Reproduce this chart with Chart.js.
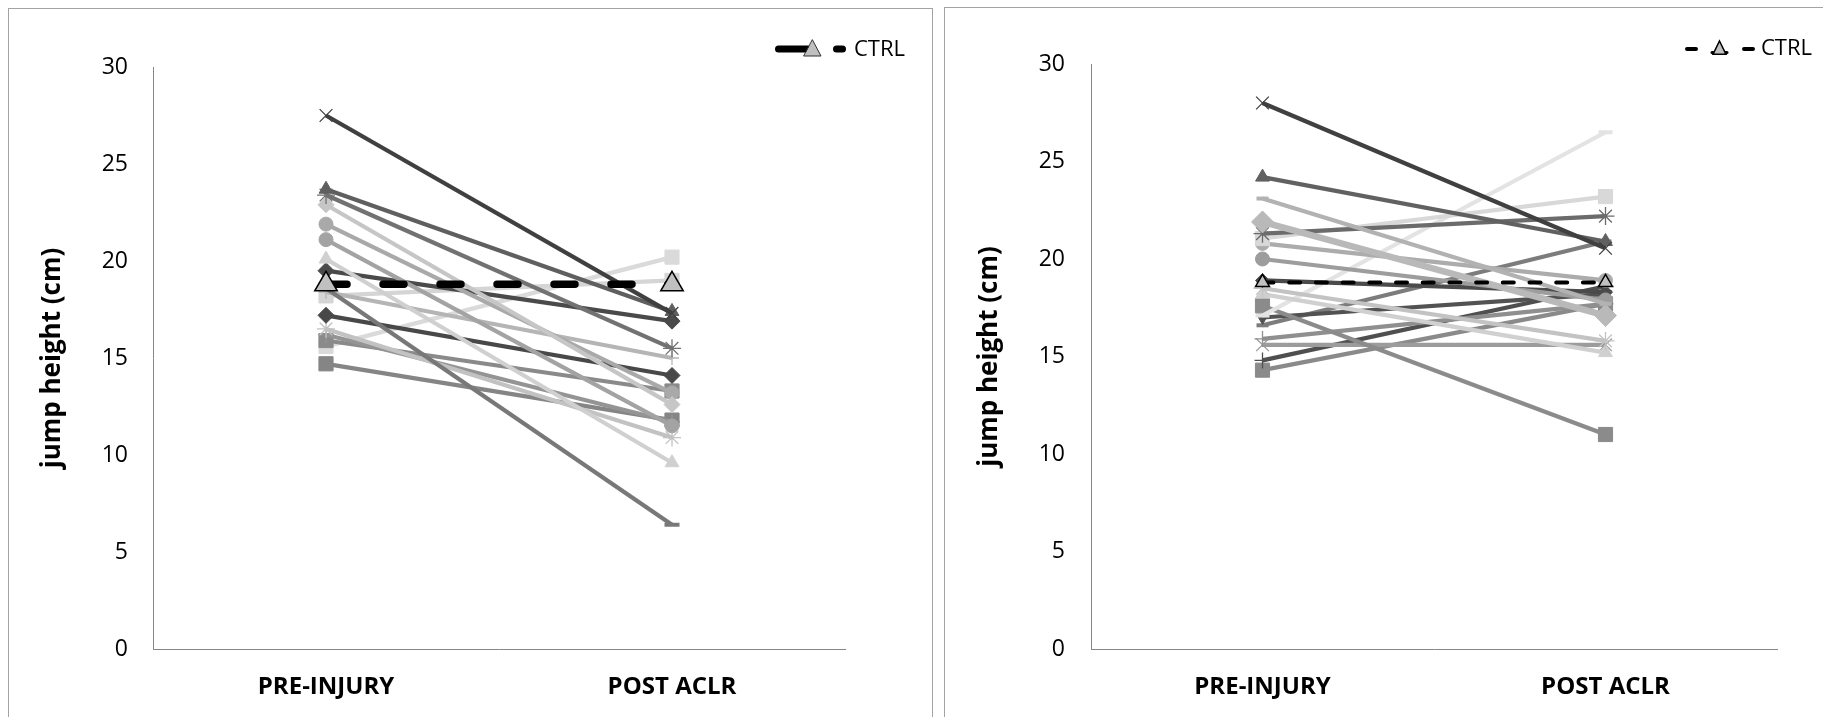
<!DOCTYPE html>
<html>
<head>
<meta charset="utf-8">
<script src="https://cdn.jsdelivr.net/npm/chart.js@4.4.1/dist/chart.umd.min.js"></script>
<style>
html, body { margin: 0; padding: 0; background: #fff; width: 1823px; height: 717px; overflow: hidden; }
.panel { position: absolute; border: 1px solid #a3a3a3; box-sizing: border-box; background: #fff; }
#p1 { left: 8px; top: 8px; width: 925px; height: 740px; }
#p2 { left: 944px; top: 7px; width: 920px; height: 740px; }
canvas { position: absolute; left: 0; top: 0; }
</style>
</head>
<body>
<div class="panel" id="p1"><canvas id="left" width="923" height="708"></canvas></div>
<div class="panel" id="p2"><canvas id="right" width="878" height="709"></canvas></div>
<script>
// categories and tick labels
const categories = ['PRE-INJURY', 'POST ACLR'];
const yTicks = [0, 5, 10, 15, 20, 25, 30];

// control group mean (same in both panels)
const ctrlLeft = [18.8, 18.8];
const ctrlRight = [18.8, 18.8];

// left panel, one entry per subject
const leftPre  = [27.5, 23.7, 23.4, 22.9, 21.9, 21.1, 20.1, 19.5, 18.6, 18.4, 18.2, 17.2, 16.5, 16.2, 15.9, 15.6, 14.7];
const leftPost = [17.3, 17.4, 15.5, 12.6, 13.2, 11.5,  9.6, 16.9,  6.4, 15.0, 19.0, 14.1, 10.9, 11.7, 13.3, 20.2, 11.8];

// right panel, one entry per subject
const rightPre  = [28.0, 24.2, 23.1, 21.9, 21.3, 21.05, 20.8, 20.0, 18.9, 18.5, 18.2, 17.1, 17.6, 17.0, 16.6, 15.9, 15.6, 14.8, 14.3];
const rightPost = [20.55, 20.9, 17.7, 17.1, 22.2, 23.2, 18.9, 17.9, 18.3, 15.8, 15.2, 26.5, 11.0, 18.2, 20.9, 17.7, 15.6, 18.6, 17.7];

// styles (kept apart from the values)
const leftColors  = ['#404040', '#5f5f5f', '#727272', '#c6c6c6', '#a9a9a9', '#a3a3a3', '#d0d0d0', '#4a4a4a', '#787878', '#b5b5b5', '#d5d5d5', '#484848', '#c2c2c2', '#949494', '#8a8a8a', '#dadada', '#858585'];
const leftMarkers = ['crossRot', 'triangle', 'star', 'rectRot', 'circle', 'circle', 'triangle', 'rectRot', 'line', 'cross', 'rect', 'rectRot', 'star', 'cross', 'rect', 'rect', 'rect'];
const leftSizes   = [9, 8, 9, 8, 7, 7, 8, 8, 7.5, 7, 10, 8, 9, 8, 10, 10, 10];

const rightColors  = ['#404040', '#616161', '#b2b2b2', '#b9b9b9', '#6b6b6b', '#d8d8d8', '#acacac', '#9d9d9d', '#4b4b4b', '#c3c3c3', '#d0d0d0', '#e3e3e3', '#8b8b8b', '#525252', '#7c7c7c', '#8f8f8f', '#9c9c9c', '#4f4f4f', '#8a8a8a'];
const rightMarkers = ['crossRot', 'triangle', 'line', 'rectRot', 'star', 'rect', 'circle', 'circle', 'rectRot', 'star', 'triangle', 'line', 'rect', 'triangle', 'line', 'cross', 'crossRot', 'cross', 'rect'];
const rightSizes   = [9, 8, 6, 11, 9, 10, 7, 7, 7, 9, 8, 7, 10, 7, 6, 8, 9, 8, 10];
const rightWidths  = [4.2, 4.2, 4.2, 6.5, 4.2, 4.2, 4.2, 4.2, 4.2, 4.2, 4.2, 4.2, 4.2, 4.2, 4.2, 4.2, 4.2, 4.2, 4.2];
const rightRotation = [0, 0, 0, 0, 0, 0, 0, 0, 0, 0, 0, 0, 0, 180, 0, 0, 0, 0, 0];

const FONT = "'Open Sans', 'Liberation Sans', sans-serif";

// legend symbol: dashed line with a triangle in the middle
function makeIcon(w, h, draw) {
    const c = document.createElement('canvas');
    c.width = w;
    c.height = h;
    draw(c.getContext('2d'));
    return c;
}

function triangle(ctx, cx, top, bottom, half) {
    ctx.beginPath();
    ctx.moveTo(cx, top);
    ctx.lineTo(cx + half, bottom);
    ctx.lineTo(cx - half, bottom);
    ctx.closePath();
    ctx.fillStyle = '#c0c0c0';
    ctx.fill();
    ctx.stroke();
}

const leftIcon = makeIcon(72, 24, ctx => {
    ctx.strokeStyle = '#000';
    ctx.lineCap = 'round';
    ctx.lineWidth = 7;
    ctx.beginPath(); ctx.moveTo(4.5, 11); ctx.lineTo(34, 11); ctx.stroke();
    ctx.beginPath(); ctx.moveTo(62.5, 11); ctx.lineTo(68.5, 11); ctx.stroke();
    ctx.lineWidth = 1;
    ctx.strokeStyle = '#303030';
    triangle(ctx, 38.5, 2, 18, 8.5);
});

const rightIcon = makeIcon(74, 24, ctx => {
    ctx.strokeStyle = '#000';
    ctx.lineCap = 'round';
    ctx.lineWidth = 4;
    ctx.beginPath(); ctx.moveTo(6, 12); ctx.lineTo(15, 12); ctx.stroke();
    ctx.beginPath(); ctx.moveTo(63, 12); ctx.lineTo(72, 12); ctx.stroke();
    ctx.lineWidth = 3;
    ctx.beginPath(); ctx.moveTo(31, 15.5); ctx.lineTo(46, 15.5); ctx.stroke();
    ctx.lineWidth = 1.5;
    triangle(ctx, 38.5, 4, 17.3, 6.5);
});

function subjectSets(pre, post, colors, markers, sizes, widths, rotation) {
    return pre.map((v, i) => ({
        label: 'S' + (i + 1),
        data: [v, post[i]],
        borderColor: colors[i],
        backgroundColor: colors[i],
        pointBackgroundColor: colors[i],
        pointBorderColor: colors[i],
        borderWidth: widths ? widths[i] : 4.2,
        pointStyle: markers[i],
        pointRadius: sizes[i],
        pointRotation: rotation ? rotation[i] : 0,
        pointBorderWidth: markers[i] === 'line' ? 4 : (['cross', 'crossRot', 'star'].includes(markers[i]) ? 1.3 : 1)
    }));
}

function makeChart(id, o) {
    const ctrlSet = {
        label: 'CTRL',
        data: o.ctrl,
        borderColor: '#000',
        borderWidth: o.ctrlWidth,
        borderDash: o.ctrlDash,
        borderCapStyle: 'round',
        pointStyle: 'triangle',
        pointRadius: o.ctrlRadius,
        pointBackgroundColor: '#c0c0c0',
        pointBorderColor: '#000',
        pointBorderWidth: 1.5
    };
    return new Chart(document.getElementById(id), {
        type: 'line',
        data: {
            labels: categories,
            datasets: [ctrlSet].concat(o.sets)
        },
        options: {
            responsive: false,
            animation: false,
            events: [],
            layout: { padding: { left: 0, top: o.padTop, bottom: 0, right: o.padRight } },
            elements: { line: { tension: 0 } },
            scales: {
                x: {
                    offset: true,
                    grid: { display: false, drawTicks: false },
                    border: { display: true, color: '#868686', width: 1 },
                    ticks: { color: '#000', padding: 24, font: { family: FONT, size: 24, weight: 'bold' } },
                    afterFit: s => { s.height = o.xHeight; }
                },
                y: {
                    min: 0,
                    max: 30,
                    afterBuildTicks: s => { s.ticks = yTicks.map(v => ({ value: v })); },
                    grid: { display: false, drawTicks: false },
                    border: { display: true, color: '#868686', width: 1 },
                    ticks: { color: '#000', padding: o.tickPad, font: { family: FONT, size: 23 } },
                    title: {
                        display: true,
                        text: 'jump height (cm)',
                        color: '#000',
                        font: { family: FONT, size: 26, weight: 'bold' },
                        padding: { top: o.titlePad, bottom: 0 }
                    },
                    afterFit: s => { s.width = o.yWidth; }
                },
                y2: {
                    position: 'right',
                    grid: { display: false, drawTicks: false },
                    border: { display: false },
                    ticks: { display: false },
                    afterFit: s => { s.width = o.rightGap; }
                }
            },
            plugins: {
                tooltip: { enabled: false },
                legend: {
                    position: 'top',
                    align: 'end',
                    labels: {
                        usePointStyle: true,
                        pointStyleWidth: o.iconBox,
                        padding: 10,
                        color: '#000',
                        font: { family: FONT, size: 22 },
                        generateLabels: () => [{ text: 'CTRL', pointStyle: o.icon, datasetIndex: 0, hidden: false, lineWidth: 0 }]
                    }
                }
            }
        },
        plugins: [{
            id: 'legendNudge',
            afterLayout(chart) {
                chart.legend.top += o.legendShift;
                chart.legend.bottom += o.legendShift;
            }
        }]
    });
}

makeChart('left', {
    ctrl: ctrlLeft,
    ctrlWidth: 7.5,
    ctrlDash: [21, 36],
    ctrlRadius: 13,
    sets: subjectSets(leftPre, leftPost, leftColors, leftMarkers, leftSizes),
    padTop: 16,
    padRight: 17,
    xHeight: 68,
    yWidth: 144,
    rightGap: 70,
    tickPad: 25,
    titlePad: 28,
    legendShift: 4,
    icon: leftIcon,
    iconBox: 66
});

makeChart('right', {
    ctrl: ctrlRight,
    ctrlWidth: 4,
    ctrlDash: [11, 15.7],
    ctrlRadius: 8,
    sets: subjectSets(rightPre, rightPost, rightColors, rightMarkers, rightSizes, rightWidths, rightRotation),
    padTop: 14,
    padRight: 1,
    xHeight: 68,
    yWidth: 146,
    rightGap: 45,
    tickPad: 26,
    titlePad: 29,
    legendShift: 6,
    icon: rightIcon,
    iconBox: 64
});
</script>
</body>
</html>
